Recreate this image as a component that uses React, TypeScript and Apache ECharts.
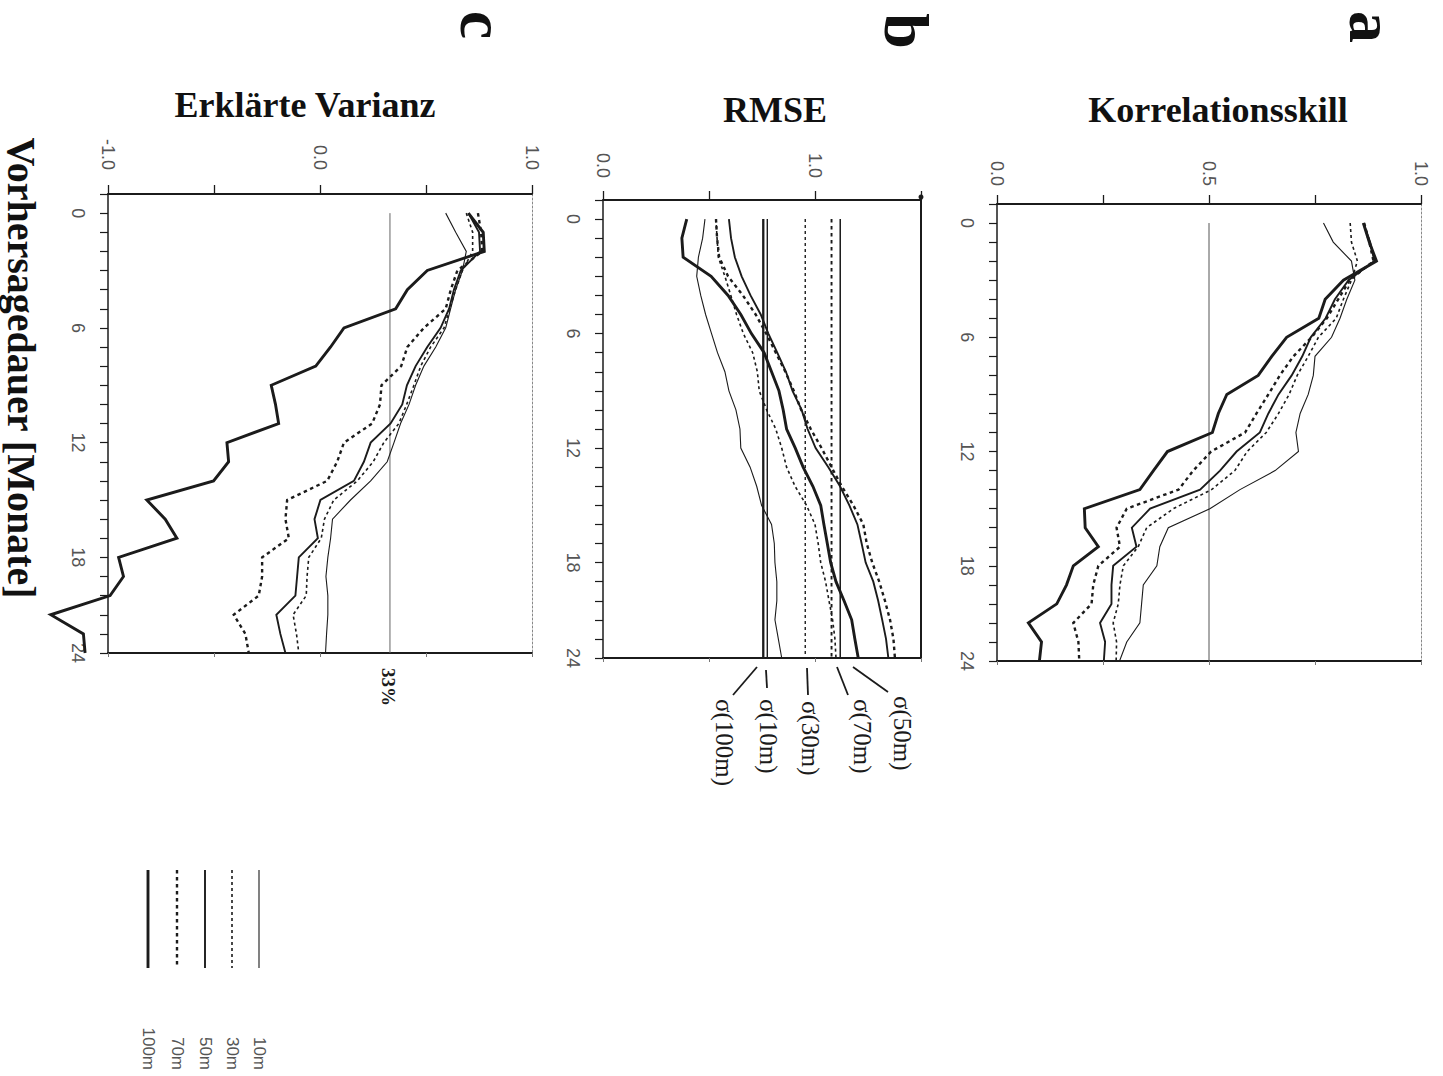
import React, { useEffect, useRef } from "react";
import * as echarts from "echarts";

// Lead time in months (vertical axis of every panel)
const MONTHS = [0, 1, 2, 3, 4, 5, 6, 7, 8, 9, 10, 11, 12, 13, 14, 15, 16, 17, 18, 19, 20, 21, 22, 23];
const MONTH_TICKS = ["0", "6", "12", "18"];
const LAST_MONTH_TICK = "24";
const DEPTHS = ["10m", "30m", "50m", "70m", "100m"];

// a: Korrelationsskill
const KORR_10M = [0.77, 0.793, 0.836, 0.844, 0.825, 0.809, 0.789, 0.75, 0.746, 0.734, 0.715, 0.705, 0.711, 0.656, 0.573, 0.502, 0.404, 0.384, 0.377, 0.345, 0.341, 0.337, 0.306, 0.289];
const KORR_30M = [0.833, 0.836, 0.85, 0.836, 0.817, 0.8, 0.758, 0.734, 0.708, 0.689, 0.664, 0.635, 0.59, 0.561, 0.506, 0.416, 0.353, 0.333, 0.298, 0.29, 0.286, 0.274, 0.282, 0.281];
const KORR_50M = [0.864, 0.88, 0.89, 0.829, 0.797, 0.775, 0.74, 0.72, 0.695, 0.664, 0.64, 0.62, 0.565, 0.526, 0.479, 0.361, 0.318, 0.329, 0.274, 0.27, 0.27, 0.243, 0.255, 0.252];
const KORR_70M = [0.866, 0.878, 0.888, 0.832, 0.805, 0.778, 0.742, 0.699, 0.667, 0.64, 0.612, 0.585, 0.505, 0.463, 0.428, 0.306, 0.282, 0.29, 0.239, 0.227, 0.223, 0.18, 0.192, 0.194];
const KORR_100M = [0.864, 0.878, 0.895, 0.817, 0.774, 0.759, 0.683, 0.648, 0.616, 0.542, 0.522, 0.508, 0.402, 0.369, 0.337, 0.206, 0.208, 0.239, 0.18, 0.164, 0.141, 0.074, 0.105, 0.1];
const KORR_REF = [0.5];

// b: RMSE
const RMSE_10M = [0.481, 0.47, 0.45, 0.442, 0.461, 0.484, 0.512, 0.54, 0.575, 0.594, 0.627, 0.646, 0.65, 0.694, 0.725, 0.748, 0.795, 0.808, 0.811, 0.82, 0.82, 0.811, 0.827, 0.843];
const RMSE_30M = [0.533, 0.538, 0.544, 0.575, 0.603, 0.63, 0.662, 0.706, 0.728, 0.737, 0.772, 0.815, 0.843, 0.866, 0.906, 0.96, 1.0, 1.015, 1.027, 1.05, 1.066, 1.083, 1.094, 1.099];
const RMSE_50M = [0.594, 0.604, 0.622, 0.654, 0.696, 0.744, 0.78, 0.822, 0.863, 0.894, 0.937, 0.965, 1.003, 1.063, 1.118, 1.162, 1.2, 1.22, 1.239, 1.275, 1.298, 1.317, 1.335, 1.346];
const RMSE_70M = [0.533, 0.538, 0.548, 0.59, 0.66, 0.72, 0.77, 0.815, 0.86, 0.9, 0.935, 0.98, 1.031, 1.078, 1.126, 1.181, 1.228, 1.244, 1.27, 1.303, 1.33, 1.354, 1.37, 1.377];
const RMSE_100M = [0.395, 0.372, 0.378, 0.51, 0.59, 0.65, 0.7, 0.76, 0.795, 0.83, 0.85, 0.866, 0.907, 0.944, 0.99, 1.027, 1.042, 1.058, 1.074, 1.099, 1.137, 1.173, 1.188, 1.204];
// standard deviation of each depth level
const SIGMA_10M = 0.775;
const SIGMA_30M = 0.954;
const SIGMA_50M = 1.119;
const SIGMA_70M = 1.078;
const SIGMA_100M = 0.756;

// c: Erklärte Varianz
const VAR_10M = [0.593, 0.64, 0.69, 0.672, 0.64, 0.616, 0.593, 0.546, 0.49, 0.451, 0.42, 0.38, 0.349, 0.317, 0.239, 0.144, 0.059, 0.05, 0.037, 0.028, 0.037, 0.037, 0.031, 0.026];
const VAR_30M = [0.69, 0.72, 0.72, 0.672, 0.64, 0.612, 0.585, 0.522, 0.475, 0.443, 0.409, 0.372, 0.301, 0.251, 0.176, 0.065, 0.021, 0.006, -0.053, -0.061, -0.065, -0.127, -0.111, -0.1];
const VAR_50M = [0.7, 0.75, 0.755, 0.664, 0.632, 0.609, 0.569, 0.506, 0.451, 0.41, 0.388, 0.333, 0.239, 0.207, 0.16, 0.002, -0.026, -0.01, -0.1, -0.108, -0.116, -0.206, -0.187, -0.163];
const VAR_70M = [0.745, 0.76, 0.765, 0.648, 0.617, 0.593, 0.49, 0.412, 0.383, 0.29, 0.283, 0.246, 0.113, 0.081, 0.034, -0.155, -0.163, -0.147, -0.273, -0.273, -0.289, -0.407, -0.352, -0.336];
const VAR_100M = [0.7, 0.77, 0.775, 0.506, 0.412, 0.357, 0.113, 0.05, -0.02, -0.23, -0.21, -0.195, -0.439, -0.431, -0.502, -0.817, -0.73, -0.675, -0.95, -0.927, -0.99, -1.27, -1.116, -1.108];
const VAR_REF = [0.33];

const INK = "#1b1b1b";
const TICK_TEXT = "#555";
const SANS = '"Liberation Sans", Arial, sans-serif';
const SERIF = '"Liberation Serif", "Times New Roman", serif';

const LINE_STYLE: Record<string, { width: number; type: any }> = {
  "10m": { width: 1.1, type: "solid" },
  "30m": { width: 1.6, type: [3, 3] },
  "50m": { width: 1.9, type: "solid" },
  "70m": { width: 2.4, type: [3.5, 3.5] },
  "100m": { width: 2.9, type: "solid" },
};

// one category per month, with an empty slot above month 0 as top margin
const MONTH_CATS = ["-1", ...MONTHS.map(String)];

type Panel = {
  grid: { left: number; top: number; width: number; height: number };
  min: number;
  max: number;
  interval: number;
  labelled: number[];
  labelMargin: number;
  rightEdge: any;
  curves: number[][];
  title: string;
  titleX: number;
  titleY: number;
  letter: string;
  letterX: number;
  letterY: number;
};

const PANELS: Panel[] = [
  {
    grid: { left: 997, top: 204, width: 424, height: 457 },
    min: 0, max: 1, interval: 0.25, labelled: [0, 0.5, 1], labelMargin: 18,
    rightEdge: { color: "#888", width: 1, type: [2, 2] },
    curves: [KORR_10M, KORR_30M, KORR_50M, KORR_70M, KORR_100M],
    title: "Korrelationsskill", titleX: 1218, titleY: 110,
    letter: "a", letterX: 1371, letterY: 27,
  },
  {
    grid: { left: 603, top: 200, width: 318, height: 458 },
    min: 0, max: 1.5, interval: 0.5, labelled: [0, 1], labelMargin: 22,
    rightEdge: { color: INK, width: 2, type: "solid" },
    curves: [RMSE_10M, RMSE_30M, RMSE_50M, RMSE_70M, RMSE_100M],
    title: "RMSE", titleX: 775, titleY: 110,
    letter: "b", letterX: 906, letterY: 31,
  },
  {
    grid: { left: 108, top: 194, width: 424, height: 459 },
    min: -1, max: 1, interval: 0.5, labelled: [-1, 0, 1], labelMargin: 24,
    rightEdge: { color: "#888", width: 1, type: [2, 2] },
    curves: [VAR_10M, VAR_30M, VAR_50M, VAR_70M, VAR_100M],
    title: "Erklärte Varianz", titleX: 305, titleY: 105,
    letter: "c", letterX: 482, letterY: 25,
  },
];

const SIGMAS = [SIGMA_10M, SIGMA_30M, SIGMA_50M, SIGMA_70M, SIGMA_100M];

// annotation placement for the sigma labels of panel b (label anchor + leader line)
const SIGMA_NOTES: Record<string, { tx: number; ty: number; line: number[] }> = {
  "50m": { tx: 902, ty: 696, line: [888, 692, 853, 667] },
  "70m": { tx: 862, ty: 699, line: [848, 695, 837, 667] },
  "30m": { tx: 810, ty: 701, line: [808, 695, 807, 668] },
  "10m": { tx: 768, ty: 699, line: [767, 688, 766, 670] },
  "100m": { tx: 724, ty: 699, line: [733, 695, 757, 667] },
};

const LEGEND_X: Record<string, number> = { "10m": 259, "30m": 232, "50m": 205, "70m": 177, "100m": 148 };

const monthLabel = (v: string) => {
  if (MONTH_TICKS.includes(v)) return v;
  if (v === String(MONTHS[MONTHS.length - 1])) return LAST_MONTH_TICK;
  return "";
};

const verticalPair = (x: number) => [
  [x, String(MONTHS[0])],
  [x, String(MONTHS[MONTHS.length - 1])],
];

function rotatedText(text: string, x: number, y: number, align: string, font: any) {
  return {
    type: "text",
    x,
    y,
    rotation: -Math.PI / 2,
    silent: true,
    style: {
      text,
      fill: font.fill || INK,
      fontFamily: font.family,
      fontSize: font.size,
      fontWeight: font.weight || "normal",
      align,
      textAlign: align,
      verticalAlign: "middle",
      textVerticalAlign: "middle",
    },
  };
}

function buildOption() {
  const grid: any[] = [];
  const xAxis: any[] = [];
  const yAxis: any[] = [];
  const series: any[] = [];
  const graphic: any[] = [];

  PANELS.forEach((p, i) => {
    grid.push({ ...p.grid });
    // top value axis with labels (top-axis rotation is mirrored by ECharts)
    xAxis.push({
      gridIndex: i, type: "value", position: "top",
      min: p.min, max: p.max, interval: p.interval,
      axisLine: { show: true, onZero: false, lineStyle: { color: INK, width: 1.8 } },
      axisTick: { show: true, length: 9, lineStyle: { color: INK, width: 1.3 } },
      axisLabel: {
        show: true, rotate: 90, margin: p.labelMargin,
        formatter: (v: number) => (p.labelled.some((l) => Math.abs(l - v) < 1e-9) ? v.toFixed(1) : ""),
        fontFamily: SANS, fontSize: 18, color: TICK_TEXT,
      },
      splitLine: { show: false },
    });
    // bottom frame line
    xAxis.push({
      gridIndex: i, type: "value", position: "bottom",
      min: p.min, max: p.max, interval: p.interval,
      axisLine: { show: true, onZero: false, lineStyle: { color: INK, width: 1.8 } },
      axisTick: { show: true, length: 4, lineStyle: { color: "#777", width: 1 } },
      axisLabel: { show: false },
      splitLine: { show: false },
    });
    // month axis
    yAxis.push({
      gridIndex: i, type: "category", position: "left", inverse: true,
      data: MONTH_CATS, boundaryGap: false,
      axisLine: { show: true, onZero: false, lineStyle: { color: INK, width: 1.5 } },
      axisTick: { show: true, interval: 0, length: 8, lineStyle: { color: INK, width: 1.2 } },
      axisLabel: {
        show: true, interval: 0, rotate: -90, margin: 21, formatter: monthLabel,
        fontFamily: SANS, fontSize: 18, color: TICK_TEXT,
      },
      splitLine: { show: false },
    });
    // right frame edge
    yAxis.push({
      gridIndex: i, type: "category", position: "right", inverse: true,
      data: MONTH_CATS, boundaryGap: false,
      axisLine: { show: true, onZero: false, lineStyle: p.rightEdge },
      axisTick: { show: false },
      axisLabel: { show: false },
      splitLine: { show: false },
    });

    p.curves.forEach((vals, k) => {
      const st = LINE_STYLE[DEPTHS[k]];
      series.push({
        type: "line", name: `${p.title} ${DEPTHS[k]}`,
        xAxisIndex: 2 * i, yAxisIndex: 2 * i,
        data: vals.map((v, m) => [v, String(MONTHS[m])]),
        symbol: "none", showSymbol: false, clip: false, silent: true, z: 4,
        lineStyle: { color: INK, width: st.width, type: st.type, cap: "butt", join: "miter" },
      });
    });

    graphic.push({
      type: "text", x: p.titleX, y: p.titleY, silent: true,
      style: {
        text: p.title, fill: "#111", fontFamily: SERIF, fontSize: 36, fontWeight: "bold",
        align: "center", textAlign: "center", verticalAlign: "middle", textVerticalAlign: "middle",
      },
    });
    graphic.push(rotatedText(p.letter, p.letterX, p.letterY, "center", { family: SERIF, size: 64, weight: "bold", fill: "#111" }));
  });

  // a: 0.5 reference line
  KORR_REF.forEach((r) => {
    series.push({
      type: "line", xAxisIndex: 0, yAxisIndex: 0, data: verticalPair(r),
      symbol: "none", silent: true, z: 2,
      lineStyle: { color: "#555", width: 1 },
    });
  });

  // b: sigma levels
  SIGMAS.forEach((s, k) => {
    const st = LINE_STYLE[DEPTHS[k]];
    series.push({
      type: "line", name: `σ(${DEPTHS[k]})`, xAxisIndex: 2, yAxisIndex: 2, data: verticalPair(s),
      symbol: "none", silent: true, z: 3,
      lineStyle: { color: INK, width: Math.max(1.4, st.width * 0.8), type: st.type, cap: "butt" },
    });
    const note = SIGMA_NOTES[DEPTHS[k]];
    graphic.push({
      type: "line", silent: true,
      shape: { x1: note.line[0], y1: note.line[1], x2: note.line[2], y2: note.line[3] },
      style: { stroke: INK, lineWidth: 1.8 },
    });
    graphic.push(rotatedText(`σ(${DEPTHS[k]})`, note.tx, note.ty, "left", { family: SERIF, size: 25 }));
  });

  // small end mark at the upper right corner of panel b
  graphic.push({
    type: "circle", silent: true,
    shape: { cx: 921, cy: 197, r: 2.5 },
    style: { fill: INK },
  });

  // c: 33 % reference line
  VAR_REF.forEach((r) => {
    series.push({
      type: "line", xAxisIndex: 4, yAxisIndex: 4, data: verticalPair(r),
      symbol: "none", silent: true, z: 2,
      lineStyle: { color: "#666", width: 1 },
    });
    graphic.push(rotatedText(`${Math.round(r * 100)}%`, 388, 668, "left", { family: SERIF, size: 19, weight: "bold" }));
  });

  // axis name shared by all panels
  graphic.push(rotatedText("Vorhersagedauer [Monate]", 21, 368, "center", { family: SERIF, size: 40, weight: "bold", fill: "#111" }));

  // line-style key
  DEPTHS.forEach((d) => {
    const st = LINE_STYLE[d];
    const x = LEGEND_X[d];
    graphic.push({
      type: "line", silent: true,
      shape: { x1: x, y1: 870, x2: x, y2: 968 },
      style: { stroke: INK, lineWidth: st.width, lineDash: st.type === "solid" ? null : st.type },
    });
    graphic.push(rotatedText(d, x, 1070, "right", { family: SANS, size: 17, fill: "#555" }));
  });

  return {
    animation: false,
    backgroundColor: "#ffffff",
    grid,
    xAxis,
    yAxis,
    series,
    graphic,
  };
}

export default function App() {
  const ref = useRef<HTMLDivElement>(null);
  useEffect(() => {
    if (!ref.current) return;
    const chart = echarts.init(ref.current, null, { renderer: "svg" });
    chart.setOption(buildOption() as any);
    return () => chart.dispose();
  }, []);
  return (
    <div
      ref={ref}
      style={{ position: "absolute", left: 0, top: 0, width: 1443, height: 1076, background: "#fff" }}
    />
  );
}
